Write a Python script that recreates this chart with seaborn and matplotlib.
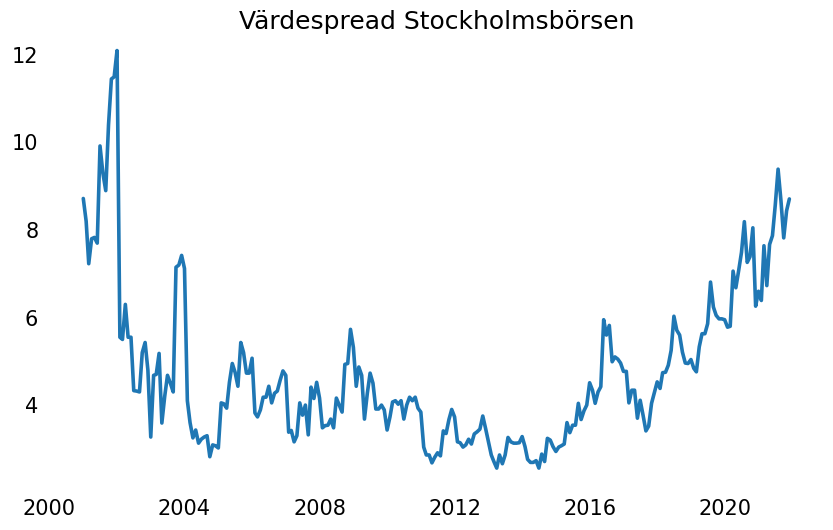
import numpy as np
import pandas as pd
import matplotlib
matplotlib.use("Agg")
import matplotlib.pyplot as plt
import matplotlib.dates as mdates
import seaborn as sns

# Månadsdata jan 2001 - dec 2021
start_month = "2001-01-01"
end_month = "2021-12-01"

v2001 = [8.72, 8.2, 7.23, 7.8, 7.83, 7.7, 9.92, 9.3, 8.9, 10.4, 11.45, 11.5]
v2002 = [12.1, 5.55, 5.5, 6.3, 5.55, 5.55, 4.33, 4.32, 4.3, 5.2, 5.43, 4.8]
v2003 = [3.27, 4.68, 4.7, 5.18, 3.59, 4.2, 4.68, 4.5, 4.3, 7.15, 7.2, 7.42]
v2004 = [7.12, 4.1, 3.6, 3.25, 3.43, 3.13, 3.22, 3.27, 3.3, 2.82, 3.09, 3.07]
v2005 = [3.02, 4.05, 4.03, 3.93, 4.52, 4.95, 4.75, 4.43, 5.43, 5.2, 4.73, 4.73]
v2006 = [5.07, 3.82, 3.73, 3.89, 4.18, 4.18, 4.43, 4.05, 4.27, 4.32, 4.57, 4.78]
v2007 = [4.68, 3.38, 3.42, 3.16, 3.3, 4.05, 3.77, 4.0, 3.32, 4.41, 4.15, 4.52]
v2008 = [4.16, 3.48, 3.53, 3.54, 3.68, 3.48, 4.16, 4.0, 3.84, 4.93, 4.95, 5.73]
v2009 = [5.32, 4.43, 4.87, 4.68, 3.68, 4.27, 4.73, 4.5, 3.91, 3.91, 4.0, 3.89]
v2010 = [3.43, 3.73, 4.07, 4.1, 4.02, 4.1, 3.68, 4.0, 4.18, 4.1, 4.18, 3.93]
v2011 = [3.84, 3.04, 2.86, 2.86, 2.68, 2.81, 2.91, 2.84, 3.41, 3.35, 3.67, 3.9]
v2012 = [3.73, 3.16, 3.14, 3.04, 3.09, 3.22, 3.11, 3.34, 3.39, 3.45, 3.75, 3.47]
v2013 = [3.16, 2.86, 2.71, 2.56, 2.86, 2.66, 2.86, 3.26, 3.16, 3.13, 3.13, 3.14]
v2014 = [3.28, 3.05, 2.76, 2.69, 2.69, 2.73, 2.56, 2.88, 2.71, 3.24, 3.2, 3.05]
v2015 = [2.94, 3.04, 3.07, 3.11, 3.6, 3.37, 3.54, 3.54, 4.04, 3.67, 3.87, 4.0]
v2016 = [4.51, 4.34, 4.04, 4.3, 4.42, 5.95, 5.6, 5.82, 4.99, 5.1, 5.05, 4.96]
v2017 = [4.77, 4.77, 4.05, 4.34, 4.34, 3.7, 4.11, 3.77, 3.41, 3.52, 4.04, 4.28]
v2018 = [4.53, 4.38, 4.74, 4.75, 4.91, 5.25, 6.03, 5.71, 5.6, 5.21, 4.96, 4.95]
v2019 = [5.04, 4.84, 4.76, 5.33, 5.63, 5.63, 5.86, 6.81, 6.24, 6.05, 5.97, 5.97]
v2020 = [5.95, 5.78, 5.8, 7.06, 6.68, 7.08, 7.49, 8.19, 7.26, 7.39, 8.05, 6.26]
v2021 = [6.6, 6.39, 7.64, 6.73, 7.67, 7.87, 8.56, 9.39, 8.67, 7.82, 8.44, 8.71]

spread = (v2001 + v2002 + v2003 + v2004 + v2005 + v2006 + v2007 + v2008
          + v2009 + v2010 + v2011 + v2012 + v2013 + v2014 + v2015 + v2016
          + v2017 + v2018 + v2019 + v2020 + v2021)

dates = pd.date_range(start_month, end_month, freq="MS")
df = pd.DataFrame({"datum": dates, "spread": spread})

sns.set_style("white")

fig = plt.figure(figsize=(8.33, 5.3), dpi=100)
ax = fig.add_axes([0.0576, 0.0774, 0.9324, 0.8666])

sns.lineplot(data=df, x="datum", y="spread", ax=ax, color="#1f77b4", linewidth=2.6)

ax.set_title("Värdespread Stockholmsbörsen", fontsize=18, color="black", pad=0.5)
ax.set_xlabel("")
ax.set_ylabel("")
ax.xaxis.set_major_locator(mdates.YearLocator(4))
ax.xaxis.set_major_formatter(mdates.DateFormatter("%Y"))
ax.set_yticks([4, 6, 8, 10, 12])
ax.tick_params(axis="both", labelsize=15, colors="black", length=0, pad=7)
sns.despine(ax=ax, left=True, bottom=True)

fig.savefig("out.png", dpi=100)
